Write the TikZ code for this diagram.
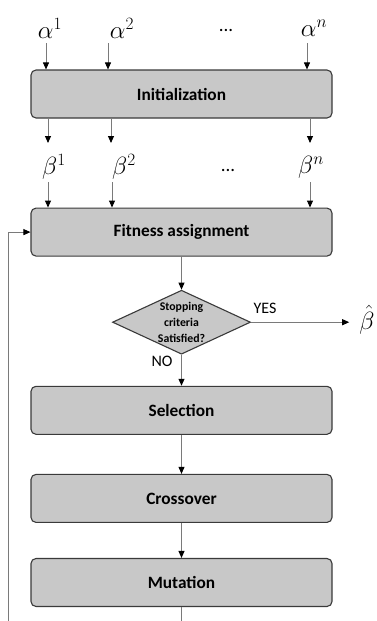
\documentclass[tikz,border=0pt]{standalone}
\usepackage{fontspec}
\setmainfont{Carlito}
\usetikzlibrary{positioning,arrows.meta,shapes.geometric}
\definecolor{boxfill}{HTML}{C8C8C8}
\definecolor{boxline}{HTML}{3A3A3A}
\definecolor{wire}{HTML}{7A7A7A}

\begin{document}
\begin{tikzpicture}[
    x=1pt, y=-1pt,
    box/.style={draw=boxline, fill=boxfill, rounded corners=5pt, line width=1.1pt, minimum width=301pt, minimum height=48pt, font=\fontsize{17.3}{20}\selectfont\bfseries},
    test/.style={diamond, draw=boxline, fill=boxfill, line width=1.1pt, aspect=2.15, inner sep=-4pt, minimum width=138pt, minimum height=64pt, align=center, font=\fontsize{11.8}{16.2}\selectfont\bfseries},
    sym/.style={inner sep=0pt, font=\fontsize{24}{28}\selectfont},
    dots/.style={inner sep=0pt, font=\fontsize{19}{22}\selectfont},
    lbl/.style={inner sep=0pt, font=\fontsize{16}{19}\selectfont},
    arr/.style={-{Triangle[length=7pt,width=6pt,color=black]}, wire, line width=0.9pt},
  ]
    \useasboundingbox (0,0) rectangle (377,621);
    \node[box]                    (init)  at (181.5,94) {Initialization};
    \node[box, below=89pt of init] (fit)   {Fitness assignment};
    \node[test, below=33pt of fit] (stop)  {Stopping\\criteria\\Satisfied?};
    \node[box, below=31pt of stop] (sel)   {Selection};
    \node[box, below=39pt of sel]  (cross) {Crossover};
    \node[box, below=35pt of cross] (mut)  {Mutation};

    \node[sym]  (a1)    at (50,28)   {$\alpha^{1}$};
    \node[sym]  (a2)    at (122,28)  {$\alpha^{2}$};
    \node[dots] (adots) at (226,30)  {...};
    \node[sym]  (an)    at (314,28)  {$\alpha^{n}$};
    \node[sym]  (b1)    at (54,167)  {$\beta^{1}$};
    \node[sym]  (b2)    at (124,167) {$\beta^{2}$};
    \node[dots] (bdots) at (228,170) {...};
    \node[sym]  (bn)    at (311,167) {$\beta^{n}$};
    \node[sym]  (hat)   at (367,320) {$\hat{\beta}$};
    \node[lbl]  (yes)   at (265,308) {YES};
    \node[lbl]  (no)    at (162,361) {NO};

    \coordinate (ia1) at (46,43);  \coordinate (ia2) at (108,43);  \coordinate (ian) at (307,43);
    \coordinate (ob1) at (48,143); \coordinate (ob2) at (111,143); \coordinate (obn) at (310,143);
    \coordinate (ib1) at (48,182); \coordinate (ib2) at (112,182); \coordinate (ibn) at (310,182);
    \coordinate (corner) at (8,621);

    \draw[arr] (ia1) -- (ia1 |- init.north); \draw[arr] (ia2) -- (ia2 |- init.north); \draw[arr] (ian) -- (ian |- init.north);
    \draw[arr] (ob1 |- init.south) -- (ob1); \draw[arr] (ob2 |- init.south) -- (ob2); \draw[arr] (obn |- init.south) -- (obn);
    \draw[arr] (ib1) -- (ib1 |- fit.north); \draw[arr] (ib2) -- (ib2 |- fit.north); \draw[arr] (ibn) -- (ibn |- fit.north);
    \draw[arr] (fit) -- (stop);
    \draw[arr, shorten >=10pt] (stop.east) -- (stop.east -| hat.west);
    \draw[arr] (stop) -- (sel); \draw[arr] (sel) -- (cross); \draw[arr] (cross) -- (mut);
    \draw[arr] (mut.south) |- (corner) |- (fit.west);
  \end{tikzpicture}
\end{document}
